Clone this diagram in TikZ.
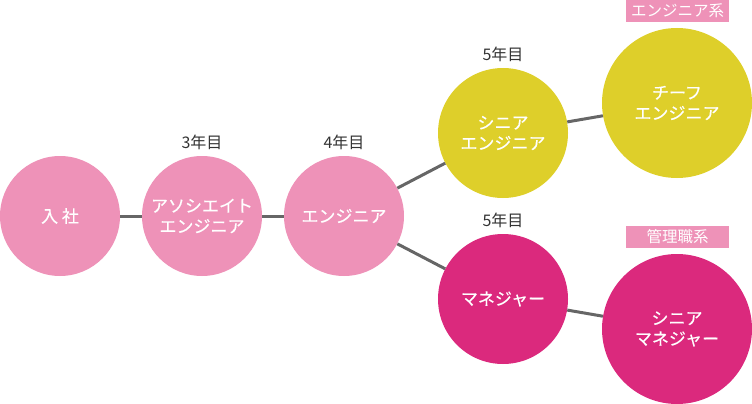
\documentclass[tikz,border=0pt]{standalone}
\usepackage{fontspec}
\setmainfont{Noto Sans CJK JP}
\newfontfamily\stagefont[FakeBold=0.4]{Noto Sans CJK JP}
\definecolor{lpink}{RGB}{238,146,184}
\definecolor{ylw}{RGB}{222,207,42}
\definecolor{mgn}{RGB}{219,41,125}
\definecolor{lgray}{RGB}{102,102,102}
\definecolor{txt}{RGB}{51,51,51}
\tikzset{
  stage/.style={circle,inner sep=0pt,align=center,text=white,font=\stagefont\fontsize{17}{20.5}\selectfont},
  yearlbl/.style={text=txt,font=\fontsize{16}{18}\selectfont,inner sep=0pt},
  tagbox/.style={fill=lpink,text=white,font=\fontsize{15.5}{18}\selectfont,minimum width=103pt,minimum height=22pt,inner sep=0pt},
  link/.style={draw=lgray,line width=3pt}
}
\begin{document}
\begin{tikzpicture}[x=1pt,y=-1pt]
\useasboundingbox (0,0) rectangle (752,404);
\node[stage,fill=lpink,minimum size=120pt] (n1) at (60,216) {入 社};
\node[stage,fill=lpink,minimum size=120pt] (n2) at (202,216) {アソシエイト\\エンジニア};
\node[stage,fill=lpink,minimum size=120pt] (n3) at (344,216) {エンジニア};
\node[stage,fill=ylw,minimum size=130pt] (n4) at (503,133) {シニア\\エンジニア};
\node[stage,fill=mgn,minimum size=130pt] (n5) at (503,299) {マネジャー};
\node[stage,fill=ylw,minimum size=150pt] (n6) at (677,103) {チーフ\\エンジニア};
\node[stage,fill=mgn,minimum size=150pt] (n7) at (677,329) {シニア\\マネジャー};
\draw[link] (n1) -- (n2);
\draw[link] (n2) -- (n3);
\draw[link] (n3) -- (n4);
\draw[link] (n3) -- (n5);
\draw[link] (n4) -- (n6);
\draw[link] (n5) -- (n7);
\node[yearlbl] (y2) at (202,142) {3年目};
\node[yearlbl] (y3) at (344,142) {4年目};
\node[yearlbl] (y4) at (503,54) {5年目};
\node[yearlbl] (y5) at (503,220) {5年目};
\node[tagbox] (t1) at (677.5,11) {エンジニア系};
\node[tagbox] (t2) at (677.5,237) {管理職系};
\end{tikzpicture}
\end{document}
